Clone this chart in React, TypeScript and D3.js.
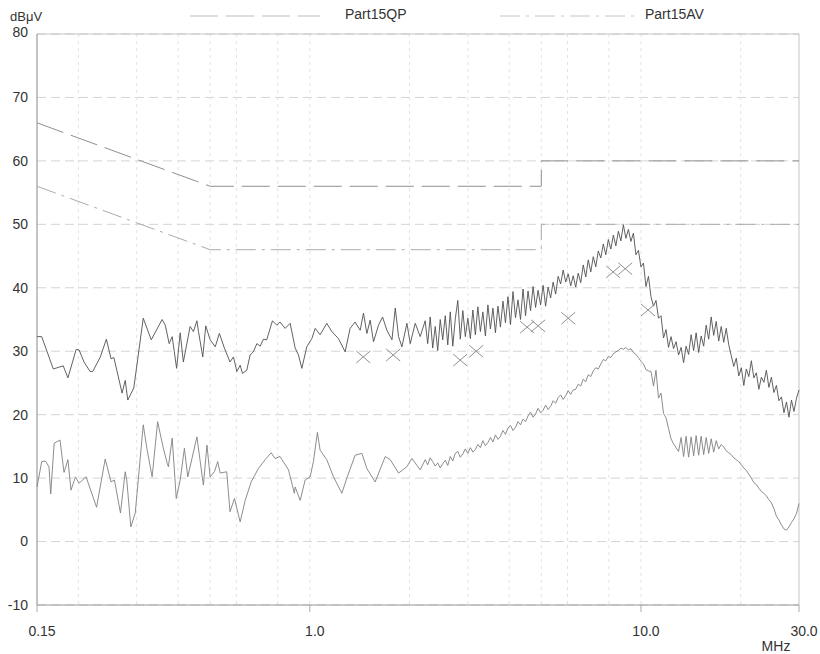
import React from 'react';
import * as d3 from 'd3';

const W = 820;
const H = 654;

// axis ticks / labels
const yTicks = [80, 70, 60, 50, 40, 30, 20, 10, 0, -10];
const xTickLabels = [
  { v: 0.15, label: '0.15' },
  { v: 1.0, label: '1.0' },
  { v: 10.0, label: '10.0' },
  { v: 30.0, label: '30.0' },
];
const xGrid = [0.2, 0.3, 0.4, 0.5, 0.6, 0.8, 1, 2, 3, 4, 5, 6, 8, 10, 20];

// limit lines [MHz, dBuV]
const qpLimit: [number, number][] = [[0.15, 66], [0.5, 56], [5, 56], [5, 60], [30, 60]];
const avLimit: [number, number][] = [[0.15, 56], [0.5, 46], [5, 46], [5, 50], [30, 50]];

// QP peak trace, low band read point by point
const qpLow: [number, number][] = [
  [0.150, 32.3], [0.155, 32.3], [0.168, 27.2], [0.180, 27.7], [0.186, 25.8], [0.197, 30.3], [0.201, 30.2],
  [0.208, 28.3], [0.217, 26.8], [0.221, 26.8], [0.233, 29.1], [0.243, 31.9], [0.251, 28.8], [0.256, 29.0],
  [0.271, 23.4], [0.277, 25.4], [0.282, 22.3], [0.294, 24.2], [0.314, 35.2], [0.332, 31.8], [0.358, 35.0],
  [0.366, 34.1], [0.376, 31.2], [0.384, 32.3], [0.396, 27.3], [0.406, 32.9], [0.415, 28.3], [0.435, 33.9],
  [0.445, 33.1], [0.456, 34.8], [0.461, 33.1], [0.475, 29.1], [0.485, 34.0], [0.500, 31.8], [0.518, 30.7],
  [0.533, 32.8], [0.552, 30.5], [0.574, 28.3], [0.588, 29.1], [0.602, 26.8], [0.616, 27.8], [0.626, 26.5],
  [0.645, 27.0], [0.660, 29.4], [0.675, 29.9], [0.692, 31.2], [0.708, 30.8], [0.724, 31.9], [0.741, 31.8],
  [0.771, 34.8], [0.795, 34.1], [0.813, 34.6], [0.842, 33.6], [0.872, 34.4], [0.903, 30.5], [0.924, 29.4],
  [0.946, 27.3], [0.979, 30.7], [1.014, 32.0], [1.038, 33.6], [1.074, 32.6], [1.125, 34.4], [1.165, 33.1],
  [1.220, 32.0], [1.278, 29.9], [1.323, 33.6], [1.370, 34.6], [1.419, 33.3], [1.452, 36.0], [1.487, 32.8],
  [1.521, 34.9], [1.557, 31.5], [1.612, 34.1], [1.658, 35.4], [1.709, 33.3], [1.770, 31.8], [1.811, 36.8],
  [1.853, 32.3], [1.897, 30.7], [1.964, 34.4], [2.010, 31.2], [2.081, 34.4], [2.154, 32.3],
];

// dense part of the sweep, 2.23 - 30 MHz, equal log steps
const sweepStart = 2.23;
const sweepEnd = 30;
const qpHigh = [
  34.8, 31.2, 35.4, 30.5, 33.9, 30.1, 35.0, 31.8, 35.6, 31.0,
  36.2, 30.8, 35.1, 38.0, 31.9, 36.4, 32.3, 35.2, 32.0, 36.5,
  32.6, 37.0, 33.1, 36.2, 32.4, 37.3, 33.5, 36.8, 32.9, 37.1,
  33.8, 37.9, 34.5, 38.6, 34.2, 39.4, 35.3, 38.1, 35.0, 39.8,
  35.6, 39.5, 36.4, 40.2, 36.9, 39.6, 37.3, 40.4, 37.1, 40.1,
  38.4, 40.9, 39.0, 41.8, 40.6, 42.8, 40.9, 42.2, 40.3, 41.9,
  40.1, 42.3, 40.8, 43.6, 41.7, 44.4, 42.5, 44.9, 43.3, 45.8,
  44.7, 46.9, 45.2, 47.6, 46.1, 48.3, 46.6, 48.9, 47.4, 49.9,
  47.8, 49.2, 47.3, 48.6, 45.2, 45.9, 43.3, 43.9, 40.2, 41.8,
  38.6, 37.1, 38.0, 35.2, 35.6, 32.1, 33.4, 30.6, 32.3, 30.4,
  31.5, 29.4, 30.6, 28.2, 30.8, 29.5, 32.6, 30.1, 32.9, 29.8,
  32.4, 30.8, 34.1, 31.9, 35.4, 32.5, 34.7, 31.6, 33.9, 31.4,
  33.6, 31.0, 29.3, 27.6, 28.9, 26.1, 27.4, 24.6, 27.2, 26.0,
  28.5, 25.8, 26.6, 24.0, 25.9, 25.1, 27.0, 24.3, 25.9, 23.5,
  24.6, 22.2, 22.8, 20.3, 22.0, 19.6, 22.3, 20.5, 22.6, 23.9,
];

// AV trace
const avLow: [number, number][] = [
  [0.150, 8.6], [0.155, 12.6], [0.159, 12.7], [0.163, 11.8], [0.165, 7.5], [0.169, 15.5], [0.176, 16.0],
  [0.181, 10.9], [0.186, 12.9], [0.190, 8.1], [0.196, 10.2], [0.201, 9.2], [0.211, 10.2], [0.227, 5.4],
  [0.241, 13.0], [0.251, 9.4], [0.257, 9.7], [0.268, 4.5], [0.277, 11.0], [0.280, 9.7], [0.288, 2.3],
  [0.297, 4.5], [0.314, 18.4], [0.322, 14.7], [0.334, 10.2], [0.347, 18.9], [0.360, 15.0], [0.371, 12.3],
  [0.374, 11.8], [0.384, 16.3], [0.395, 6.8], [0.406, 9.7], [0.418, 14.7], [0.428, 10.2], [0.456, 16.5],
  [0.477, 8.9], [0.489, 15.2], [0.500, 10.2], [0.515, 11.0], [0.527, 12.6], [0.536, 10.8], [0.561, 11.0],
  [0.574, 4.7], [0.592, 6.8], [0.616, 3.1], [0.638, 6.5], [0.665, 9.4], [0.699, 11.5], [0.733, 12.9],
  [0.764, 14.0], [0.785, 13.1], [0.813, 13.4], [0.862, 11.3], [0.898, 7.6], [0.903, 8.6], [0.935, 6.5],
  [0.968, 9.7], [1.002, 10.2], [1.025, 12.6], [1.054, 17.2], [1.074, 14.4], [1.125, 12.9], [1.179, 10.2],
  [1.249, 7.6], [1.293, 10.0], [1.370, 13.6], [1.436, 13.9], [1.487, 11.5], [1.575, 9.4], [1.689, 13.4],
  [1.749, 12.9], [1.853, 10.8], [1.964, 11.8], [2.033, 13.1], [2.154, 11.3],
];
const avHigh = [
  12.9, 12.1, 13.2, 12.6, 11.9, 12.4, 11.6, 12.3, 12.8, 12.0,
  13.4, 12.7, 13.9, 14.2, 13.3, 13.8, 14.6, 13.9, 14.8, 14.1,
  14.5, 15.3, 14.8, 15.9, 15.1, 15.6, 16.4, 15.7, 16.8, 16.1,
  16.6, 17.5, 16.9, 17.9, 18.3, 17.5, 18.0, 18.9, 18.4, 19.3,
  18.9, 19.8, 20.4, 19.6, 20.1, 21.0, 20.3, 20.7, 21.5, 20.8,
  21.3, 22.2, 21.8, 22.7, 23.1, 22.4, 23.0, 23.8, 23.2, 23.9,
  24.0, 24.8, 24.5, 25.6, 25.2, 26.3, 26.0, 26.9, 27.4, 27.2,
  28.0, 28.7, 28.5, 29.2, 29.0, 29.6, 29.9, 30.1, 30.5, 30.3,
  30.6, 30.2, 30.4, 29.8, 29.5, 29.0, 28.4, 28.0, 27.1, 26.9,
  26.8, 24.5, 27.0, 22.6, 23.4, 20.2, 19.5, 17.8, 16.2, 15.4,
  14.8, 14.2, 16.4, 13.4, 16.6, 13.3, 16.5, 13.5, 16.7, 13.6,
  16.6, 13.7, 16.4, 13.9, 16.2, 14.1, 15.9, 14.6, 15.3, 14.9,
  14.3, 14.0, 13.7, 13.2, 12.9, 12.6, 12.1, 11.6, 11.2, 10.6,
  10.0, 9.3, 9.0, 8.4, 7.9, 7.6, 7.2, 6.6, 6.1, 5.2,
  4.0, 3.4, 2.6, 2.0, 1.8, 2.3, 3.0, 3.6, 4.4, 6.0,
];

// final QP measurements (x markers)
const qpMarks: [number, number][] = [
  [1.45, 29.1], [1.785, 29.4], [2.845, 28.6], [3.18, 30.0], [4.53, 33.8],
  [4.89, 34.0], [6.03, 35.2], [8.24, 42.5], [8.96, 43.0], [10.5, 36.5],
];

const sweepFreq = (n: number, i: number) =>
  sweepStart * Math.pow(sweepEnd / sweepStart, i / (n - 1));

const qpTrace: [number, number][] = qpLow.concat(qpHigh.map((v, i) => [sweepFreq(qpHigh.length, i), v] as [number, number]));
const avTrace: [number, number][] = avLow.concat(avHigh.map((v, i) => [sweepFreq(avHigh.length, i), v] as [number, number]));

export default function App() {
  const x = d3.scaleLog().domain([0.15, 30]).range([37, 799]);
  const y = d3.scaleLinear().domain([-10, 80]).range([605, 34]);
  const line = d3
    .line<[number, number]>()
    .x((d) => x(d[0]))
    .y((d) => y(d[1]));

  const font = 'Arial, "Liberation Sans", Helvetica, sans-serif';
  const txt = '#333';

  return (
    <div style={{ position: 'absolute', left: 0, top: 0 }}>
      <svg width={W} height={H} style={{ display: 'block', background: '#fff' }} fontFamily={font}>
        {/* horizontal grid */}
        {yTicks.map((t) => (
          <line key={'h' + t} x1={37} x2={799} y1={y(t)} y2={y(t)} stroke="#d4d4d4" strokeWidth={1} strokeDasharray="9,5" />
        ))}
        {/* vertical grid */}
        {xGrid.map((g) => (
          <line key={'v' + g} x1={x(g)} x2={x(g)} y1={34} y2={605} stroke="#e2e2e2" strokeWidth={1} strokeDasharray="3,4" />
        ))}
        {/* frame */}
        <line x1={37} x2={799} y1={34} y2={34} stroke="#c4c4c4" />
        <line x1={799} x2={799} y1={34} y2={605} stroke="#c4c4c4" />
        <line x1={37} x2={37} y1={34} y2={605} stroke="#888" />
        <line x1={37} x2={799} y1={605} y2={605} stroke="#999" />
        {xTickLabels.map((t) => (
          <line key={'t' + t.v} x1={x(t.v)} x2={x(t.v)} y1={605} y2={612} stroke="#aaa" />
        ))}

        {/* limit lines */}
        <path d={line(qpLimit) || ''} fill="none" stroke="#8f8f8f" strokeWidth={1} strokeDasharray="28,8" />
        <path d={line(avLimit) || ''} fill="none" stroke="#ababab" strokeWidth={1} strokeDasharray="20,6,3,6" />

        {/* traces */}
        <path d={line(avTrace) || ''} fill="none" stroke="#808080" strokeWidth={0.9} />
        <path d={line(qpTrace) || ''} fill="none" stroke="#505050" strokeWidth={0.9} />

        {/* QP markers */}
        {qpMarks.map((m, i) => (
          <g key={'m' + i} transform={`translate(${x(m[0])},${y(m[1])})`} stroke="#909090" strokeWidth={1}>
            <line x1={-7} y1={-6} x2={7} y2={6} />
            <line x1={-7} y1={6} x2={7} y2={-6} />
          </g>
        ))}

        {/* y labels */}
        {yTicks.map((t) => (
          <text key={'yl' + t} x={28} y={t === 80 ? y(t) - 2 : y(t)} dy="0.35em" textAnchor="end" fontSize={14} fill={txt}>
            {t}
          </text>
        ))}
        <text x={10} y={21} fontSize={13} fill={txt}>dBμV</text>

        {/* x labels */}
        {xTickLabels.map((t) => (
          <text key={'xl' + t.v} x={x(t.v) + 5} y={636} textAnchor="middle" fontSize={14} fill={txt}>
            {t.label}
          </text>
        ))}
        <text x={776} y={651} textAnchor="middle" fontSize={14} fill={txt}>MHz</text>

        {/* legend */}
        <line x1={190} x2={320} y1={16} y2={16} stroke="#bdbdbd" strokeDasharray="28,8" />
        <text x={345} y={19} fontSize={14} fill={txt}>Part15QP</text>
        <line x1={500} x2={637} y1={16} y2={16} stroke="#c6c6c6" strokeDasharray="20,6,3,6" />
        <text x={645} y={19} fontSize={14} fill={txt}>Part15AV</text>
      </svg>
    </div>
  );
}
